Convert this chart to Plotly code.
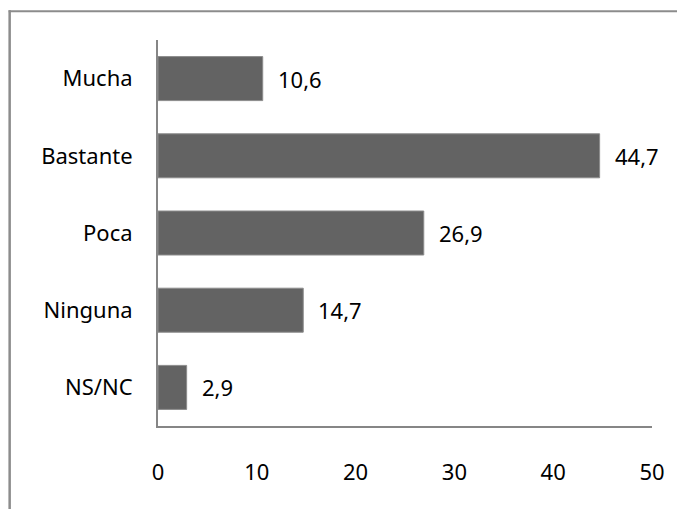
import plotly.graph_objects as go

categories = ["Mucha", "Bastante", "Poca", "Ninguna", "NS/NC"]
values = [10.6, 44.7, 26.9, 14.7, 2.9]
x_ticks = [0, 10, 20, 30, 40, 50]

FONT = "Noto Sans"
fig = go.Figure()
fig.add_trace(go.Bar(
    y=categories, x=values, orientation="h",
    marker=dict(color="#636363", line=dict(color="#8c8c8c", width=1)),
    hoverinfo="skip",
))

annotations = []
for c, v in zip(categories, values):
    annotations.append(dict(
        x=v, y=c, xref="x", yref="y", xanchor="left", yanchor="middle",
        xshift=13, showarrow=False,
        text=f"{v:.1f}".replace(".", ","),
        font=dict(family=FONT, size=22, color="#000000"),
    ))

# page has an 8px body margin, so the figure is offset by 8px
W, H = 677, 501
L, R, T, B = 149.5, 33, 32, 83
pw, ph = W - L - R, H - T - B
def px(xp):
    return (xp - L) / pw
def py(yp):
    return (H - B - yp) / ph

shapes = [
    dict(type="line", xref="paper", yref="paper", x0=px(0), x1=px(700), y0=py(3.25), y1=py(3.25),
         line=dict(color="#8c8c8c", width=2)),
    dict(type="line", xref="paper", yref="paper", x0=px(1), x1=px(1), y0=py(2.25), y1=py(520),
         line=dict(color="#8c8c8c", width=2.5)),
]

fig.update_layout(
    width=W, height=H,
    margin=dict(l=L, r=R, t=T, b=B, pad=0),
    paper_bgcolor="white", plot_bgcolor="white",
    showlegend=False,
    bargap=0.43,
    annotations=annotations,
    shapes=shapes,
    font=dict(family=FONT, size=22, color="#000000"),
)
fig.update_xaxes(
    range=[0, 50], tickvals=x_ticks, ticktext=[str(t) for t in x_ticks],
    showgrid=False, zeroline=False, showline=True, linecolor="#868686", linewidth=2,
    ticks="", ticklabelstandoff=26,
    tickfont=dict(family=FONT, size=22, color="#000000"),
)
fig.update_yaxes(
    categoryorder="array", categoryarray=categories[::-1],
    showgrid=False, zeroline=False, showline=True, linecolor="#868686", linewidth=2,
    ticks="", ticklabelstandoff=19,
    tickfont=dict(family=FONT, size=22, color="#000000"),
)

fig.write_html("out.html")
